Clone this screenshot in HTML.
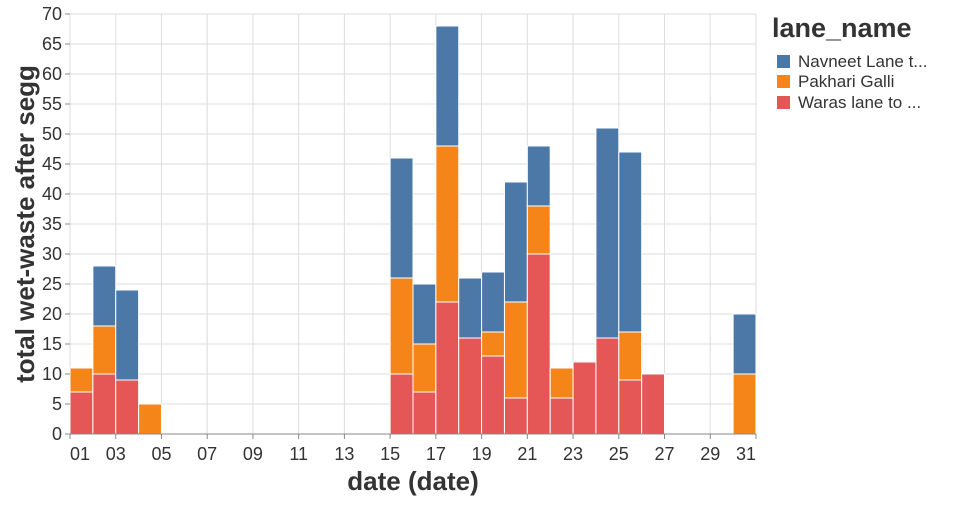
<!DOCTYPE html>
<html><head><meta charset="utf-8"><style>
body{margin:0;background:#fff;}
svg text{font-family:"Liberation Sans",sans-serif;}
</style></head><body>
<svg id="chart" width="960" height="500" xmlns="http://www.w3.org/2000/svg">
<g id="grid"></g>
<g id="bars"></g>
<g id="axes"></g>
<text x="0" y="0" transform="translate(34,224) rotate(-90)" text-anchor="middle" font-size="26" font-weight="bold" fill="#333">total wet-waste after segg</text>
<text x="413" y="490" text-anchor="middle" font-size="26" font-weight="bold" fill="#333">date (date)</text>
<g>
<text x="772" y="37" font-size="27" font-weight="bold" fill="#333">lane_name</text>
<g><rect x="777" y="55" width="13" height="13" fill="#4c78a8"/><text x="798" y="67" font-size="17" fill="#333">Navneet Lane t...</text></g>
<g><rect x="777" y="75" width="13" height="13" fill="#f58518"/><text x="798" y="87" font-size="17" fill="#333">Pakhari Galli</text></g>
<g><rect x="777" y="96" width="13" height="13" fill="#e45756"/><text x="798" y="108" font-size="17" fill="#333">Waras lane to ...</text></g>
</g>
</svg>
<script>
const days    = [1, 2, 3, 4, 15, 16, 17, 18, 19, 20, 21, 22, 23, 24, 25, 26, 30];
const waras   = [7, 10, 9, 0, 10, 7, 22, 16, 13, 6, 30, 6, 12, 16, 9, 10, 0];
const pakhari = [4, 8, 0, 5, 16, 8, 26, 0, 4, 16, 8, 5, 0, 0, 8, 0, 10];
const navneet = [0, 10, 15, 0, 20, 10, 20, 10, 10, 20, 10, 0, 0, 35, 30, 0, 10];
const yTicks  = [0,5,10,15,20,25,30,35,40,45,50,55,60,65,70];
const xTicks  = [1,3,5,7,9,11,13,15,17,19,21,23,25,27,29,31];
const xTickLabels = ["01","03","05","07","09","11","13","15","17","19","21","23","25","27","29","31"];

const X0=70, X1=756, Y0=434, Y1=14;
const x = d => X0 + (d-1)*(X1-X0)/30;
const y = v => Y0 - v*(Y0-Y1)/70;
const NS="http://www.w3.org/2000/svg";
const grid=document.getElementById('grid'), bars=document.getElementById('bars'), axes=document.getElementById('axes');
function mk(tag, attrs, parent){const e=document.createElementNS(NS,tag);for(const k in attrs)e.setAttribute(k,attrs[k]);parent.appendChild(e);return e;}

yTicks.forEach(t=>{
  const l=mk('line',{x1:X0,x2:X1,y1:y(t),y2:y(t),stroke:'#ddd','stroke-width':1},grid);
  
  
  const tk=mk('line',{x1:X0-5,x2:X0,y1:y(t),y2:y(t),stroke:'#888'},axes);
  
  
  const tx=mk('text',{x:X0-8,y:y(t)+6,'text-anchor':'end','font-size':18,fill:'#333'},axes);
  tx.textContent=t;
  
  
});
xTicks.forEach((d,i)=>{
  const l=mk('line',{x1:x(d),x2:x(d),y1:Y1,y2:Y0,stroke:'#ddd','stroke-width':1},grid);
  
  
  const tk=mk('line',{x1:x(d),x2:x(d),y1:Y0,y2:Y0+5,stroke:'#888'},axes);
  
  
  const anchor = i===0?'start':(i===xTicks.length-1?'end':'middle');
  const tx=mk('text',{x:x(d),y:460,'text-anchor':anchor,'font-size':18,fill:'#333'},axes);
  tx.textContent=xTickLabels[i];
  
  
});
const xl=mk('line',{x1:X0,x2:X1,y1:Y0,y2:Y0,stroke:'#888'},axes);



const series=[[waras,'#e45756','waras'],[pakhari,'#f58518','pakhari'],[navneet,'#4c78a8','navneet']];
days.forEach((d,i)=>{
  let base=0;
  series.forEach(([vals,col,nm])=>{
    const v=vals[i];
    if(v>0){
      const r=mk('rect',{x:x(d),y:y(base+v),width:x(d+1)-x(d),height:y(base)-y(base+v),fill:col,stroke:'#fff','stroke-width':1},bars);
      
      
    }
    base+=v;
  });
});
</script>
</body></html>
